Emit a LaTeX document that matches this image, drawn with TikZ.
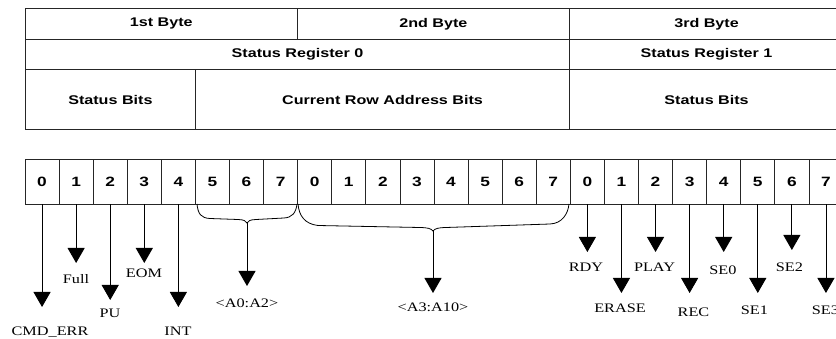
\documentclass[tikz,border=0pt]{standalone}
\usepackage{fontspec}
\usetikzlibrary{arrows.meta}
\newfontfamily\hdrfont{Liberation Sans}[FakeStretch=1.28]
\newfontfamily\lblfont{Liberation Serif}[FakeStretch=1.25]
\tikzset{
  hbox/.style={draw=black!85, line width=0.8pt, inner sep=0pt, anchor=north west,
    font=\hdrfont\bfseries\fontsize{12.6}{14}\selectfont},
  bitcell/.style={draw=black!85, line width=0.8pt, inner sep=0pt,
    minimum width=34.083pt, minimum height=45pt,
    font=\hdrfont\bfseries\fontsize{13.5}{15}\selectfont},
  arr/.style={line width=0.9pt, -{Triangle[width=17pt,length=15pt]}},
  brc/.style={line width=0.8pt},
  lbl/.style={anchor=base, inner sep=0pt, font=\lblfont\fontsize{13}{15}\selectfont}
}
\begin{document}
\begin{tikzpicture}[x=1pt,y=-1pt]
\useasboundingbox (0,0) rectangle (836,339);
\clip (0,0) rectangle (836,339);
\fill[white] (0,0) rectangle (836,339);
% header table
\node[hbox, minimum width=271.7pt, minimum height=31pt] (r1a) at (25,8) {1st Byte};
\node[hbox, minimum width=272.6pt, minimum height=31pt] (r1b) at (296.7,8) {2nd Byte};
\node[hbox, minimum width=273.7pt, minimum height=31pt] (r1c) at (569.3,8) {3rd Byte};
\node[hbox, minimum width=544.3pt, minimum height=30.3pt] (r2a) at (25,39) {Status Register 0};
\node[hbox, minimum width=273.7pt, minimum height=30.3pt] (r2b) at (569.3,39) {Status Register 1};
\node[hbox, minimum width=170pt, minimum height=59.7pt] (r3a) at (25,69.3) {Status Bits};
\node[hbox, minimum width=374.3pt, minimum height=59.7pt] (r3b) at (195,69.3) {Current Row Address Bits};
\node[hbox, minimum width=273.7pt, minimum height=59.7pt] (r3c) at (569.3,69.3) {Status Bits};
% bit cells
\foreach \i [evaluate=\i as \d using {int(mod(\i,8))}] in {0,...,23}
  \node[bitcell] (c\i) at ({25+(\i+0.5)*34.083},181.5) {\d};
% bit arrows
\foreach \i/\ty in {0/307,1/263,2/300,3/263,4/307,16/252,17/293,18/252,19/293,20/252,21/293,22/250,23/293}{
  \coordinate (t\i) at (c\i.south |- 0,\ty);
  \draw[arr] (c\i.south) -- (t\i);
}
% braces
\draw[brc] (197,204) .. controls (198,214) and (201,218) .. (210,218.5) -- (238,219.5)
  .. controls (244,219.7) and (246,221) .. (247,223)
  .. controls (248,221) and (250,219.7) .. (256,219.5) -- (284,218)
  .. controls (292,217.5) and (296,213) .. (297,204);
\coordinate (bt1) at (247,223);
\coordinate (ba1) at (247,286);
\draw[arr] (bt1) -- (ba1);
\draw[brc] (298,204) .. controls (299,216) and (305,224) .. (318,225.5) -- (420,227.5)
  .. controls (428,227.7) and (431,228.5) .. (433,231)
  .. controls (435,228.5) and (438,227.7) .. (446,227.5) -- (550,224)
  .. controls (562,223.5) and (568,214) .. (569,204);
\coordinate (bt2) at (433,231);
\coordinate (ba2) at (433,293);
\draw[arr] (bt2) -- (ba2);
% labels
\node[lbl] (l0) at (50,336) {CMD\_ERR};
\node[lbl] (l1) at (76,284) {Full};
\node[lbl] (l2) at (110,317) {PU};
\node[lbl] (l3) at (144,278) {EOM};
\node[lbl] (l4) at (178,336) {INT};
\node[lbl] (la1) at (247,308) {<A0:A2>};
\node[lbl] (la2) at (433,312) {<A3:A10>};
\node[lbl] (l16) at (586,271.5) {RDY};
\node[lbl] (l17) at (620,312.5) {ERASE};
\node[lbl] (l18) at (654.5,271.5) {PLAY};
\node[lbl] (l19) at (693.5,316.5) {REC};
\node[lbl] (l20) at (723,275) {SE0};
\node[lbl] (l21) at (754.5,315) {SE1};
\node[lbl] (l22) at (789.5,271.5) {SE2};
\node[lbl] (l23) at (825.5,315) {SE3};
\end{tikzpicture}
\end{document}
